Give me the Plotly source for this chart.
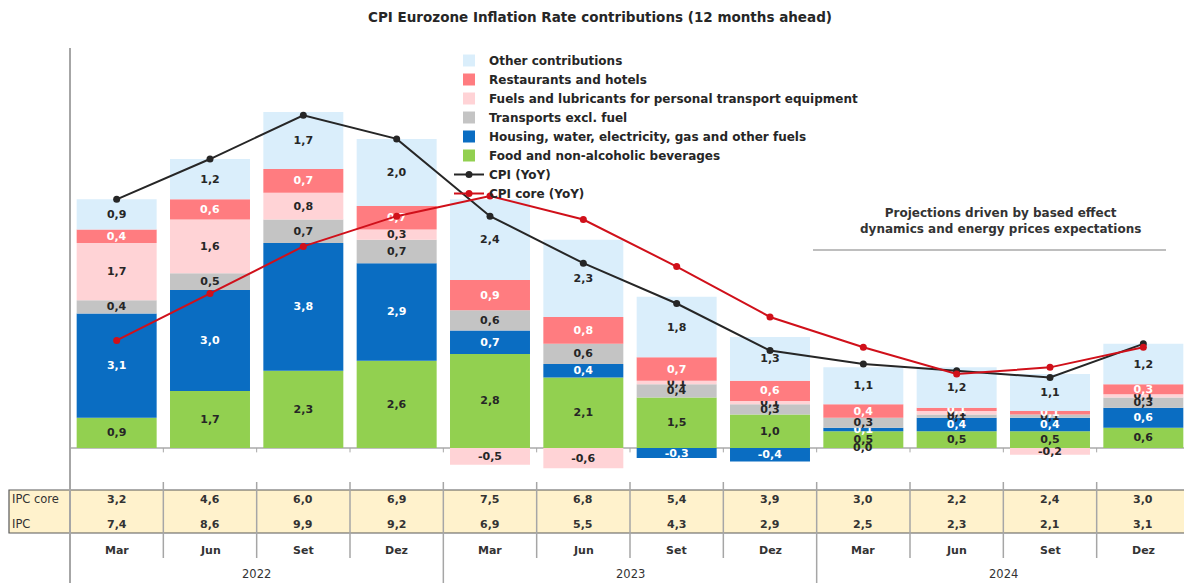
import plotly.graph_objects as go

months = ["Mar", "Jun", "Set", "Dez"] * 3
years = ["2022", "2023", "2024"]
categories = [f"{m} {y}" for y in years for m in ["Mar", "Jun", "Set", "Dez"]]

food = [0.9, 1.7, 2.3, 2.6, 2.8, 2.1, 1.5, 1.0, 0.5, 0.5, 0.5, 0.6]
housing = [3.1, 3.0, 3.8, 2.9, 0.7, 0.4, -0.3, -0.4, 0.1, 0.4, 0.4, 0.6]
transports = [0.4, 0.5, 0.7, 0.7, 0.6, 0.6, 0.4, 0.3, 0.3, 0.1, 0.1, 0.3]
fuels = [1.7, 1.6, 0.8, 0.3, -0.5, -0.6, 0.1, 0.1, 0.0, 0.1, -0.2, 0.1]
restaurants = [0.4, 0.6, 0.7, 0.7, 0.9, 0.8, 0.7, 0.6, 0.4, 0.1, 0.1, 0.3]
other = [0.9, 1.2, 1.7, 2.0, 2.4, 2.3, 1.8, 1.3, 1.1, 1.2, 1.1, 1.2]

cpi = [7.4, 8.6, 9.9, 9.2, 6.9, 5.5, 4.3, 2.9, 2.5, 2.3, 2.1, 3.1]
cpi_core = [3.2, 4.6, 6.0, 6.9, 7.5, 6.8, 5.4, 3.9, 3.0, 2.2, 2.4, 3.0]


def fmt(v):
    return f"{v:.1f}".replace(".", ",")


FONT = "DejaVu Sans, Verdana, sans-serif"
# page body has an 8px margin: figure coordinates = reference pixels - 8
O = 8
W, H = 1192 - O, 583 - O

fig = go.Figure()

bar_series = [
    ("Food and non-alcoholic beverages", food, "#92D050", "#262626", 6),
    ("Housing, water, electricity, gas and other fuels", housing, "#0A6DC2", "#FFFFFF", 5),
    ("Transports excl. fuel", transports, "#C4C4C4", "#262626", 4),
    ("Fuels and lubricants for personal transport equipment", fuels, "#FFD3D6", "#262626", 3),
    ("Restaurants and hotels", restaurants, "#FF7C80", "#FFFFFF", 2),
    ("Other contributions", other, "#DAEEFB", "#262626", 1),
]
annotations = []
for name, vals, col, tcol, rank in bar_series:
    fig.add_trace(go.Bar(
        x=categories, y=vals, name=name,
        marker=dict(color=col, line=dict(width=0)),
        text=[fmt(v) for v in vals], textposition="inside",
        insidetextanchor="middle", constraintext="none", textangle=0,
        textfont=dict(family=FONT, size=11, color=tcol, weight="bold"),
        legendrank=rank, hoverinfo="skip",
    ))
    # zero-height segments still carry their label at the zero line
    for c, v in zip(categories, vals):
        if v == 0:
            annotations.append(dict(xref="x", yref="y", x=c, y=0, text=fmt(v),
                                    showarrow=False, yanchor="middle",
                                    font=dict(family=FONT, size=11, color=tcol, weight="bold")))

fig.add_trace(go.Scatter(
    x=categories, y=cpi, name="CPI (YoY)", mode="lines+markers",
    line=dict(color="#262626", width=2), marker=dict(size=7, color="#262626"),
    legendrank=7,
))
fig.add_trace(go.Scatter(
    x=categories, y=cpi_core, name="CPI core (YoY)", mode="lines+markers",
    line=dict(color="#D0101A", width=2), marker=dict(size=7, color="#D0101A"),
    legendrank=8,
))

# reference-pixel geometry
PLOT_TOP, PLOT_BOT = 48, 470
L, R = 70, 1190


def py(px):
    return (PLOT_BOT - px) / (PLOT_BOT - PLOT_TOP)


def pxp(px):
    return (px - L) / (R - L)


shapes = []
GRAY = "#A6A6A6"
BOTTOM = 583
shapes.append(dict(type="line", xref="paper", yref="paper", x0=0, x1=0,
                   y0=py(PLOT_TOP), y1=py(BOTTOM), line=dict(color=GRAY, width=2)))
shapes.append(dict(type="line", xref="paper", yref="paper", x0=1, x1=1,
                   y0=py(482), y1=py(BOTTOM), line=dict(color=GRAY, width=1.5)))
for i in range(len(categories) - 1):
    shapes.append(dict(type="line", xref="x", yref="y", x0=i + 0.5, x1=i + 0.5,
                       y0=0, y1=-0.13, line=dict(color=GRAY, width=1)))
shapes.append(dict(type="rect", xref="paper", yref="paper", x0=pxp(9), x1=1,
                   y0=py(490), y1=py(533), fillcolor="#FFF2CC",
                   line=dict(color="#595959", width=1.2), layer="below"))
for i in range(len(categories) - 1):
    is_year = (i + 1) % 4 == 0
    shapes.append(dict(type="line", xref="x", yref="paper", x0=i + 0.5, x1=i + 0.5,
                       y0=py(482), y1=py(BOTTOM if is_year else 558),
                       line=dict(color=GRAY, width=1.5)))
shapes.append(dict(type="line", xref="paper", yref="paper", x0=pxp(813), x1=pxp(1166),
                   y0=py(250), y1=py(250), line=dict(color="#7F7F7F", width=1.2)))

tfont = dict(family=FONT, size=11, color="#333333", weight="bold")
rfont = dict(family=FONT, size=11.5, color="#333333")
annotations.append(dict(xref="paper", yref="paper", x=pxp(10), y=py(499), text="IPC core",
                        showarrow=False, xanchor="left", yanchor="middle", font=rfont))
annotations.append(dict(xref="paper", yref="paper", x=pxp(10), y=py(524), text="IPC",
                        showarrow=False, xanchor="left", yanchor="middle", font=rfont))
for i, c in enumerate(categories):
    annotations.append(dict(xref="x", yref="paper", x=c, y=py(499), text=fmt(cpi_core[i]),
                            showarrow=False, yanchor="middle", font=tfont))
    annotations.append(dict(xref="x", yref="paper", x=c, y=py(524), text=fmt(cpi[i]),
                            showarrow=False, yanchor="middle", font=tfont))
    annotations.append(dict(xref="x", yref="paper", x=c, y=py(550), text=months[i],
                            showarrow=False, yanchor="middle", font=tfont))
for j, yr in enumerate(years):
    annotations.append(dict(xref="x", yref="paper", x=4 * j + 1.5, y=py(574), text=yr,
                            showarrow=False, yanchor="middle",
                            font=dict(family=FONT, size=11.5, color="#333333")))
annotations.append(dict(xref="paper", yref="paper", x=pxp(1000), y=py(221),
                        text="Projections driven by based effect<br>dynamics and energy prices expectations",
                        showarrow=False, xanchor="center", yanchor="middle", align="center",
                        font=dict(family=FONT, size=12, color="#333333", weight="bold")))

fig.update_layout(
    width=W, height=H,
    margin=dict(l=L - O, r=1192 - R, t=PLOT_TOP - O, b=BOTTOM - PLOT_BOT),
    paper_bgcolor="white", plot_bgcolor="white",
    barmode="relative", bargap=0.143,
    title=dict(text="CPI Eurozone Inflation Rate contributions (12 months ahead)",
               x=0.5, xanchor="center", y=1 - (17 - O) / H, yanchor="middle",
               font=dict(family=FONT, size=13.5, color="#262626", weight="bold")),
    xaxis=dict(type="category", showticklabels=False, ticks="", showgrid=False,
               showline=False, zeroline=False, range=[-0.5, 11.5]),
    yaxis=dict(range=[-0.655, 11.905], showticklabels=False, ticks="", showgrid=False,
               showline=False, zeroline=True, zerolinecolor="#BFBFBF", zerolinewidth=1.5),
    legend=dict(x=pxp(449), y=py(46), xanchor="left", yanchor="top",
                bgcolor="rgba(0,0,0,0)", traceorder="normal",
                font=dict(family=FONT, size=12, color="#262626", weight="bold"),
                itemwidth=30),
    shapes=shapes, annotations=annotations,
    showlegend=True,
)

fig.write_html("out.html")
